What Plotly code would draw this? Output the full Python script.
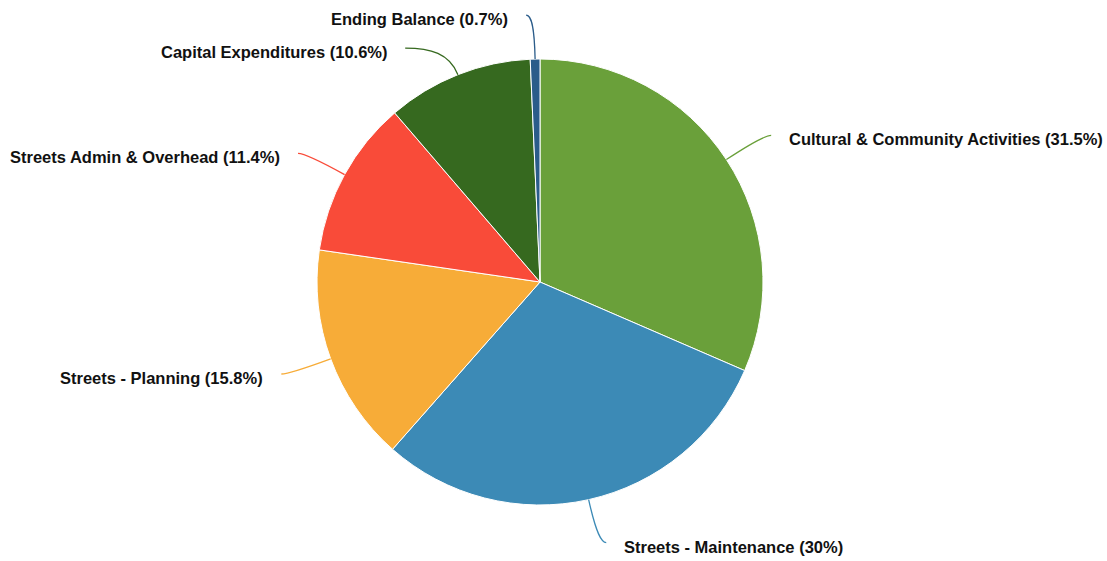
import math
import plotly.graph_objects as go

# slice data (percent of total)
labels = [
    "Cultural & Community Activities",
    "Streets - Maintenance",
    "Streets - Planning",
    "Streets Admin & Overhead",
    "Capital Expenditures",
    "Ending Balance",
]
values = [31.5, 30, 15.8, 11.4, 10.6, 0.7]
colors = ["#6aa03a", "#3c8ab6", "#f7ac38", "#f94b39", "#36691f", "#2b5c8a"]

W, H = 1107, 561
CX, CY, R = 540, 282, 223      # pie centre / radius in px
R_ELBOW = 267                  # where leader lines bend to horizontal
R_LABEL = 270                  # label circle used when a label gets pushed
GAP = 33                       # min vertical distance between labels on a side
TAIL = 8                       # horizontal end of the leader line
TEXT_PAD = 16


def px(x, y):
    return x / W, 1 - y / H


fig = go.Figure(go.Pie(
    labels=labels,
    values=values,
    sort=False,
    direction="clockwise",
    rotation=0,
    textinfo="none",
    hoverinfo="label+percent",
    marker=dict(colors=colors, line=dict(color="white", width=1)),
    domain=dict(x=[(CX - R) / W, (CX + R) / W],
                y=[1 - (CY + R) / H, 1 - (CY - R) / H]),
    showlegend=False,
))

# mid angle of each slice (degrees clockwise from 12 o'clock)
total = sum(values)
mids = []
acc = 0
for v in values:
    mids.append((acc + v / 2) / total * 360)
    acc += v

dirs = [(math.sin(math.radians(a)), -math.cos(math.radians(a))) for a in mids]
elbow_y = [CY + R_ELBOW * d[1] for d in dirs]
sides = [1 if d[0] >= 0 else -1 for d in dirs]
pushed = [False] * len(values)

# push overlapping labels apart (downwards) on each side
for side in (1, -1):
    idx = sorted([i for i in range(len(values)) if sides[i] == side], key=lambda i: elbow_y[i])
    for k in range(1, len(idx)):
        if elbow_y[idx[k]] - elbow_y[idx[k - 1]] < GAP:
            elbow_y[idx[k]] = elbow_y[idx[k - 1]] + GAP
            pushed[idx[k]] = True

shapes = []
annotations = []
for i in range(len(values)):
    dx, dy = dirs[i]
    side = sides[i]
    sx, sy = CX + R * dx, CY + R * dy
    ky = elbow_y[i]
    t = (ky - sy) / dy if abs(dy) > 1e-6 else 0
    kx = sx + t * dx
    ex = kx + side * TAIL
    if pushed[i]:
        circ = CX + side * math.sqrt(max(R_LABEL ** 2 - (ky - CY) ** 2, 0))
        ex = max(ex, circ) if side > 0 else min(ex, circ)
    ey = ky
    c1 = (sx + 0.8 * (kx - sx), sy + 0.8 * (ky - sy))
    c2 = (ex + 0.6 * (kx - ex), ey)
    p0, p1, p2, p3 = px(sx, sy), px(*c1), px(*c2), px(ex, ey)
    shapes.append(dict(
        type="path", xref="paper", yref="paper",
        path=f"M {p0[0]},{p0[1]} C {p1[0]},{p1[1]} {p2[0]},{p2[1]} {p3[0]},{p3[1]}",
        line=dict(color=colors[i], width=1.3),
    ))
    tx = ex + side * TEXT_PAD
    annotations.append(dict(
        x=tx / W, y=1 - ey / H, xref="paper", yref="paper",
        xanchor="left" if side > 0 else "right", yanchor="middle",
        yshift=-4, showarrow=False,
        text=f"<b>{labels[i]} ({values[i]:g}%)</b>",
        font=dict(family="Liberation Sans, Arial, sans-serif", size=16.5, color="#111111"),
    ))

fig.update_layout(
    width=W, height=H,
    margin=dict(l=0, r=0, t=0, b=0),
    paper_bgcolor="white",
    plot_bgcolor="white",
    shapes=shapes,
    annotations=annotations,
)

fig.write_html("out.html", config={"displayModeBar": False},
               post_script="document.body.style.margin = '0';")
